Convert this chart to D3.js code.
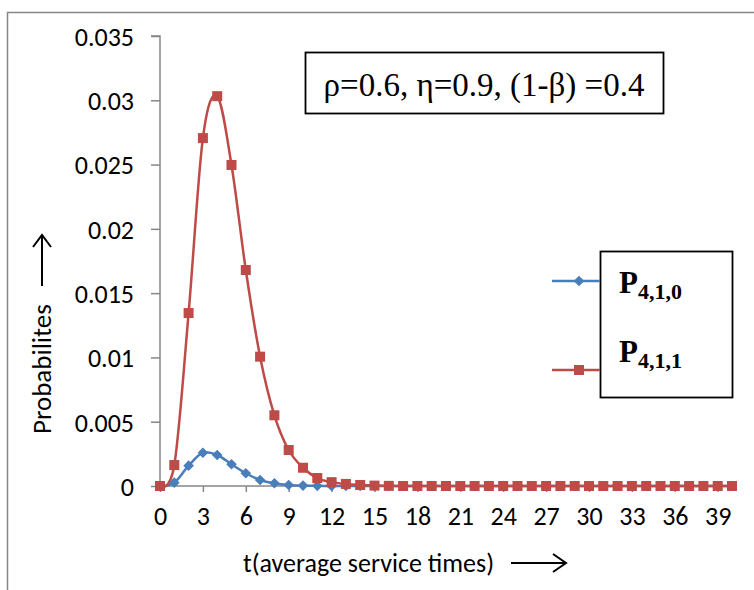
<!DOCTYPE html>
<html lang="en">
<head>
<meta charset="utf-8">
<title>Probabilities chart</title>
<style>
    body { margin: 0; background: #fff; }
    text { font-family: Calibri, Carlito, Lato, sans-serif; }
</style>
</head>
<body>
<svg id="chart" width="754" height="590"></svg>
<script src="https://d3js.org/d3.v7.min.js"></script>
<script>
    // t values (categories)
    const times = [0, 1, 2, 3, 4, 5, 6, 7, 8, 9, 10, 11, 12, 13, 14, 15, 16, 17, 18, 19, 20,
        21, 22, 23, 24, 25, 26, 27, 28, 29, 30, 31, 32, 33, 34, 35, 36, 37, 38, 39, 40]

    // P4,1,0
    const p410 = [0, 0.00026, 0.00158, 0.00259, 0.00241, 0.00169, 0.00099, 0.00047, 0.00021, 0.00008,
        0.00003, 0.00001, 0, 0, 0, 0, 0, 0, 0, 0, 0, 0, 0, 0, 0, 0, 0, 0, 0, 0, 0, 0, 0, 0, 0, 0, 0, 0, 0, 0, 0]

    // P4,1,1
    const p411 = [0, 0.00163, 0.01345, 0.02706, 0.03032, 0.02497, 0.0168, 0.01006, 0.0055, 0.0028,
        0.00142, 0.00062, 0.0003, 0.00016, 0.00008, 0.00003, 0.00001, 0, 0, 0, 0, 0, 0, 0, 0, 0, 0, 0, 0, 0,
        0, 0, 0, 0, 0, 0, 0, 0, 0, 0, 0]

    const yTicks = [0, 0.005, 0.01, 0.015, 0.02, 0.025, 0.03, 0.035]
    const xTicks = [0, 3, 6, 9, 12, 15, 18, 21, 24, 27, 30, 33, 36, 39]

    const svg = d3.select('#chart')
    const axisGray = '#868686'
    const blue = '#4a7ebb'
    const red = '#be4b48'
    const sansFont = 'Calibri, Carlito, Lato, sans-serif'
    const serifFont = '"Liberation Serif", "Times New Roman", serif'

    // outer chart border (cropped at right and bottom)
    svg.append('rect')
        .attr('x', 7.5).attr('y', 12.5)
        .attr('width', 800).attr('height', 700)
        .attr('fill', 'none').attr('stroke', axisGray).attr('stroke-width', 1.5)

    const x = d3.scaleLinear().domain([0, 40]).range([160, 732])
    const y = d3.scaleLinear().domain([0, 0.035]).range([486, 36])

    // y axis
    const yAxis = svg.append('g')
        .attr('transform', 'translate(160,0)')
        .call(d3.axisLeft(y).tickValues(yTicks).tickSize(9).tickPadding(17)
            .tickFormat(d => d === 0 ? '0' : String(+d.toFixed(3))))
    yAxis.select('.domain').attr('d', `M-9,${y(0.035)}H0V${y(0)}`)

    // x axis
    const xAxis = svg.append('g')
        .attr('transform', `translate(0,${y(0)})`)
        .call(d3.axisBottom(x).tickValues(xTicks).tickSize(6).tickPadding(15).tickSizeOuter(0))
    xAxis.select('.domain').attr('d', `M${x(0)},0H${x(40)}`)

    svg.selectAll('.tick line, .domain').attr('stroke', axisGray).attr('stroke-width', 1.5)
    svg.selectAll('.tick text').attr('font-size', 26).attr('fill', '#000')
        .style('font-family', sansFont)
    yAxis.selectAll('.tick text').attr('dy', '0.36em')
    xAxis.selectAll('.tick text').attr('dy', '0.71em')

    // series
    const line = d3.line().curve(d3.curveCatmullRom.alpha(0))

    svg.append('path')
        .datum(times.map((t, i) => [x(t), y(p410[i])]))
        .attr('d', line).attr('fill', 'none').attr('stroke', blue).attr('stroke-width', 2.5)

    svg.append('path')
        .datum(times.map((t, i) => [x(t), y(p411[i])]))
        .attr('d', line).attr('fill', 'none').attr('stroke', red).attr('stroke-width', 2.5)

    const diamond = d3.symbol().type(d3.symbolDiamond2).size(72)
    const sq = 10

    svg.append('g').selectAll('path')
        .data(times)
        .join('path')
        .attr('d', diamond)
        .attr('transform', (t, i) => `translate(${x(t)},${y(p410[i])})`)
        .attr('fill', blue)

    svg.append('g').selectAll('rect')
        .data(times)
        .join('rect')
        .attr('x', t => x(t) - sq / 2)
        .attr('y', (t, i) => y(p411[i]) - sq / 2)
        .attr('width', sq).attr('height', sq)
        .attr('fill', red)

    // parameter box
    svg.append('rect')
        .attr('x', 305.5).attr('y', 52.5).attr('width', 358).attr('height', 61)
        .attr('fill', '#fff').attr('stroke', '#000').attr('stroke-width', 1.8)
    svg.append('text')
        .attr('x', 484).attr('y', 96)
        .attr('text-anchor', 'middle')
        .style('font-family', serifFont)
        .attr('font-size', 33)
        .text('ρ=0.6, η=0.9, (1-β) =0.4')

    // legend
    svg.append('rect')
        .attr('x', 600.5).attr('y', 251.5).attr('width', 132).attr('height', 146)
        .attr('fill', '#fff').attr('stroke', '#000').attr('stroke-width', 1.8)

    const legend = [
        { name: '4,1,0', color: blue, y: 281, textY: 293, marker: 'diamond' },
        { name: '4,1,1', color: red, y: 370, textY: 362, marker: 'square' }
    ]

    legend.forEach(l => {
        svg.append('line')
            .attr('x1', 552).attr('x2', 600).attr('y1', l.y).attr('y2', l.y)
            .attr('stroke', l.color).attr('stroke-width', 2.5)
        if (l.marker === 'diamond') {
            svg.append('path').attr('d', diamond)
                .attr('transform', `translate(579,${l.y})`).attr('fill', l.color)
        } else {
            svg.append('rect').attr('x', 579 - sq / 2).attr('y', l.y - sq / 2)
                .attr('width', sq).attr('height', sq).attr('fill', l.color)
        }
        const t = svg.append('text')
            .attr('x', 619).attr('y', l.textY)
            .style('font-family', serifFont)
            .attr('font-weight', 'bold')
        t.append('tspan').attr('font-size', 31).text('P')
        t.append('tspan').attr('font-size', 22).attr('dy', 6).text(l.name)
    })

    // axis titles
    svg.append('text')
        .attr('transform', 'translate(51,434) rotate(-90)')
        .attr('font-size', 27)
        .text('Probabilites')

    svg.append('text')
        .attr('x', 243).attr('y', 572)
        .attr('font-size', 26)
        .text('t(average service times)')

    // arrows
    const arrows = svg.append('g').attr('fill', 'none').attr('stroke', '#000')
        .attr('stroke-width', 2).attr('stroke-linejoin', 'miter')
    arrows.append('path').attr('d', 'M42,286V236M33,247L42,235L51,247')
    arrows.append('path').attr('d', 'M511,563H565M553,554L566,563L553,572')
</script>
</body>
</html>
